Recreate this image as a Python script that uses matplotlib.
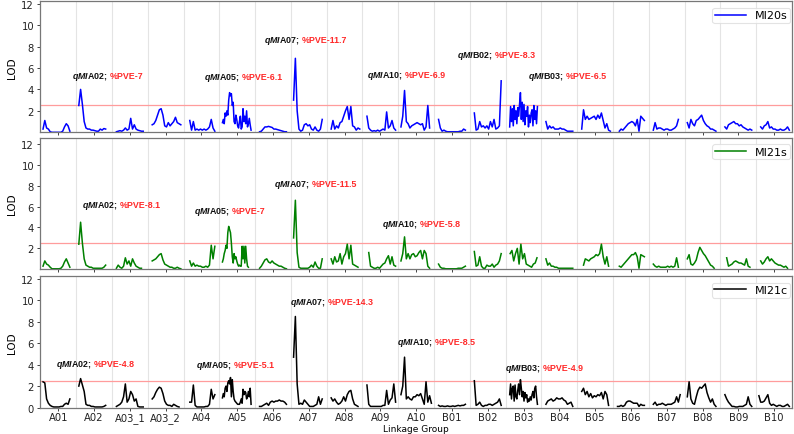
import numpy as np
import matplotlib
matplotlib.use("Agg")
import matplotlib.pyplot as plt
from matplotlib.transforms import offset_copy

nan = np.nan

groups = ['A01', 'A02', 'A03_1', 'A03_2', 'A04', 'A05', 'A06', 'A07', 'A08', 'A09', 'A10',
          'B01', 'B02', 'B03', 'B04', 'B05', 'B06', 'B07', 'B08', 'B09', 'B10']

# LOD scans, one list per linkage group (evenly spaced positions along each group)
mi20s_lod = [
    [nan, 0.3, 1.1, 0.4, 0.3, 0.05, 0, 0, 0, 0, 0, 0, 0.1, 0.5, 0.8, 0.6, 0.1, nan, nan, nan],
    [nan, 2.5, 4.0, 2.6, 1.0, 0.4, 0.3, 0.3, 0.2, 0.2, 0.15, 0.1, 0.1, 0.3, 0.2, 0.35, 0.3, nan, nan, nan],
    [nan, nan, 0.05, 0.1, 0.15, 0.1, 0.2, 0.4, 0.2, 0.3, 1.3, 0.3, 0.7, 0.3, 0.2, 0.15, 0.1, 0.1, nan, nan],
    [nan, nan, 0.7, 0.8, 1.1, 1.6, 2.1, 2.2, 1.6, 0.6, 0.5, 0.9, 0.6, 0.8, 1.0, 1.4, 0.9, 0.8, 0.7, nan],
    [nan, nan, nan, 1.1, 0.2, 1.0, 0.2, 0.3, 0.2, 0.3, 0.2, 0.3, 0.2, 0.3, 0.5, 1.2, 0.4, 0.1, nan, nan],
    [nan, nan, nan, 0.9, 1.2, 0.8, 1.8, 1.5, 2.0, 1.6, 3.0, 3.7, 3.4, 3.6, 2.5, 2.8, 1.0, 0.8, 1.6, 1.2,
     0.6, 0.4, 1.0, 1.5, 0.3, 0.5, 2.2, 1.0, 1.5, 0.8, 2.0, 0.5, 0.8, 1.3, 0.7, 0.2, nan, nan, nan, nan],
    [nan, nan, 0.05, 0.1, 0.3, 0.5, 0.5, 0.55, 0.5, 0.45, 0.3, 0.3, 0.25, 0.2, 0.15, 0.1, 0.05, 0.05, nan, nan],
    [nan, 3.0, 6.9, 2.0, 0.3, 0.1, 0.2, 0.7, 0.8, 0.6, 0.7, 0.3, 0.2, 0.5, 0.2, 0.1, 0.3, 1.2, nan, nan],
    [nan, nan, 0.3, 1.1, 0.3, 0.6, 0.4, 0.9, 1.0, 1.5, 2.0, 2.4, 1.2, 2.4, 0.6, 0.5, 0.2, 0.4, 0.3, nan],
    [nan, nan, 1.5, 0.4, 0.2, 0.1, 0.15, 0.1, 0.2, 0.1, 0.2, 0.3, 0.2, 1.9, 0.4, 0.6, 1.1, 0.4, 0.2, nan],
    [nan, 0.5, 1.5, 3.9, 1.0, 0.8, 0.4, 0.6, 0.7, 0.8, 0.9, 0.8, 0.7, 0.8, 0.2, 0.5, 2.5, 0.4, nan, nan],
    [nan, nan, 1.2, 0.4, 0.1, 0.2, 0.1, 0.05, 0.05, 0.05, 0.05, 0.05, 0.05, 0.05, 0.1, 0.1, 0.3, 0.2, nan, nan],
    [nan, nan, 1.8, 0.2, 0.3, 1.0, 0.5, 0.6, 0.4, 0.6, 0.3, 1.0, 0.5, 1.2, 0.3, 0.4, 0.6, 4.8, nan, nan],
    [nan, nan, nan, nan, 0.5, 2.4, 1.0, 2.2, 0.6, 2.5, 1.2, 2.0, 0.8, 2.3, 1.5, 2.6, 3.7, 1.2, 2.8, 1.0,
     2.6, 0.7, 2.0, 1.5, 2.4, 0.5, 1.6, 0.9, 1.8, 2.1, 0.6, 2.5, 1.2, 2.0, 0.8, 2.4, nan, nan, nan, nan],
    [nan, nan, 1.0, 0.3, 0.6, 0.4, 0.5, 0.3, 0.3, 0.3, 0.4, 0.3, 0.3, 0.2, 0.1, 0.1, 0.1, 0.1, nan, nan],
    [nan, nan, 0.3, 2.1, 1.2, 1.5, 1.2, 1.3, 1.4, 1.5, 1.2, 1.6, 1.3, 1.8, 1.1, 0.4, 0.8, 0.2, 0.1, nan],
    [nan, nan, nan, 0.1, 0.3, 0.2, 0.4, 0.6, 0.8, 0.9, 1.0, 0.9, 0.6, 1.2, 0.1, 1.5, 1.3, 1.1, nan, nan],
    [nan, nan, 0.2, 0.9, 0.3, 0.4, 0.4, 0.3, 0.2, 0.3, 0.3, 0.2, 0.2, 0.3, 0.4, 0.6, 1.2, nan, nan, nan],
    [nan, 0.9, 0.4, 1.2, 0.8, 0.6, 1.1, 1.2, 1.4, 1.6, 1.1, 0.8, 0.6, 0.5, 0.3, 0.3, 0.2, 0.1, nan, nan],
    [nan, nan, 0.5, 0.3, 0.7, 0.8, 0.9, 1.0, 0.8, 0.8, 0.6, 0.7, 0.5, 0.4, 0.3, 0.2, 0.3, 0.2, nan, nan],
    [nan, nan, 0.5, 0.3, 0.6, 0.7, 1.0, 0.4, 0.5, 0.3, 0.3, 0.2, 0.2, 0.3, 0.2, 0.2, 0.3, 0.5, 0.2, nan],
]

mi21s_lod = [
    [nan, 0.3, 0.8, 0.5, 0.4, 0.2, 0.05, 0.05, 0.05, 0.05, 0.05, 0.1, 0.3, 0.7, 1.0, 0.6, 0.2, nan, nan, nan],
    [nan, 2.4, 4.5, 2.5, 1.0, 0.4, 0.3, 0.2, 0.2, 0.1, 0.1, 0.1, 0.1, 0.1, 0.1, 0.2, 0.4, nan, nan, nan],
    [nan, nan, 0.1, 0.4, 0.2, 0.1, 0.3, 1.1, 0.5, 0.8, 0.3, 1.0, 0.6, 0.3, 0.2, 0.1, 0.1, nan, nan, nan],
    [nan, nan, 0.8, 0.9, 1.0, 1.2, 1.4, 1.5, 0.9, 0.5, 0.4, 0.3, 0.2, 0.2, 0.1, 0.1, 0.2, 0.1, 0.05, nan],
    [nan, nan, nan, 0.8, 0.3, 0.6, 0.3, 0.4, 0.3, 0.3, 0.2, 0.2, 0.3, 0.2, 0.4, 2.3, 1.0, 2.2, nan, nan],
    [nan, nan, nan, 0.7, 1.0, 1.5, 1.8, 2.3, 2.0, 3.5, 4.1, 3.8, 3.5, 2.5, 1.2, 0.6, 1.5, 1.0, 1.2, 0.8,
     0.5, 0.3, 0.4, 0.3, 0.3, 2.2, 1.0, 2.2, 0.6, 2.2, 1.0, 0.3, 0.2, nan, nan, nan, nan, nan, nan, nan],
    [nan, nan, 0.1, 0.3, 0.6, 0.9, 1.0, 0.7, 0.6, 0.8, 0.6, 0.5, 0.4, 0.3, 0.3, 0.2, 0.1, 0.05, nan, nan],
    [nan, 3.0, 6.6, 1.6, 0.2, 0.1, 0.1, 0.1, 0.1, 0.1, 0.2, 0.4, 0.2, 0.7, 0.3, 0.1, 0.1, 1.0, nan, nan],
    [nan, nan, 1.0, 0.5, 1.2, 0.7, 0.8, 1.5, 0.5, 1.2, 1.5, 2.4, 1.0, 2.3, 0.5, 0.4, 0.3, 0.2, nan, nan],
    [nan, nan, nan, 1.6, 0.3, 0.2, 0.1, 0.1, 0.2, 0.1, 0.3, 0.5, 0.6, 1.0, 1.3, 0.5, 1.2, 0.4, 0.3, nan],
    [nan, 0.8, 1.5, 3.1, 1.0, 1.5, 1.0, 1.4, 1.5, 1.2, 1.3, 1.6, 1.8, 1.0, 1.8, 1.5, 0.3, 0.1, nan, nan],
    [nan, nan, 0.5, 0.2, 0.1, 0.1, 0.05, 0.05, 0.05, 0.05, 0.05, 0.05, 0.05, 0.1, 0.1, 0.1, 0.2, 0.3, nan, nan],
    [nan, nan, 1.7, 0.3, 0.4, 1.2, 0.3, 0.1, 0.1, 0.4, 0.3, 0.3, 0.5, 0.2, 0.4, 0.5, 0.8, 1.5, nan, nan],
    [nan, nan, 1.5, 1.8, 0.8, 1.5, 2.0, 0.5, 2.4, 1.0, 1.5, 0.5, 0.4, 0.3, 0.2, 0.5, 0.6, 1.1, nan, nan],
    [nan, nan, 1.0, 0.4, 0.6, 0.3, 0.3, 0.2, 0.2, 0.1, 0.1, 0.1, 0.1, 0.1, 0.1, 0.1, 0.1, 0.1, nan, nan],
    [nan, nan, nan, 0.4, 1.0, 0.9, 0.8, 1.0, 1.1, 1.2, 1.4, 1.3, 1.5, 2.4, 1.2, 0.5, 1.2, 0.3, nan, nan],
    [nan, nan, nan, 0.3, 0.2, 0.4, 0.6, 0.8, 1.0, 1.2, 1.4, 1.4, 1.6, 1.2, 0.1, 1.4, 1.3, 1.2, nan, nan],
    [nan, nan, 0.5, 0.3, 0.2, 0.3, 0.2, 0.2, 0.2, 0.2, 0.3, 0.2, 0.3, 0.2, 0.3, 1.1, 0.2, nan, nan, nan],
    [nan, 1.0, 1.4, 0.5, 0.4, 0.6, 0.9, 1.6, 2.1, 1.8, 1.5, 1.3, 1.0, 0.7, 0.4, 0.3, 0.1, nan, nan, nan],
    [nan, nan, nan, 1.1, 0.3, 0.4, 0.5, 0.7, 0.8, 0.7, 0.6, 0.6, 0.5, 0.4, 1.0, 0.3, 0.2, nan, nan, nan],
    [nan, nan, 0.8, 0.5, 0.7, 1.0, 1.2, 0.8, 1.0, 0.8, 0.6, 0.5, 0.4, 0.4, 0.3, 0.2, 0.3, 0.1, nan, nan],
]

mi21c_lod = [
    [nan, 2.4, 2.3, 0.8, 0.4, 0.2, 0.1, 0.05, 0.05, 0.05, 0.05, 0.1, 0.1, 0.3, 0.4, 0.3, 0.8, nan, nan, nan],
    [nan, 2.0, 2.7, 2.1, 1.5, 0.3, 0.2, 0.2, 0.1, 0.1, 0.05, 0.05, 0.05, 0.05, 0.05, 0.1, 0.2, nan, nan, nan],
    [nan, nan, 0.1, 0.2, 0.3, 0.5, 1.0, 2.2, 0.5, 0.8, 1.5, 1.2, 0.6, 0.8, 0.1, 0.05, 0.05, 0.05, nan, nan],
    [nan, nan, 0.8, 1.0, 1.4, 1.7, 1.9, 1.8, 1.3, 0.6, 0.3, 0.2, 0.2, 0.1, 0.3, 0.2, 0.1, 0.05, nan, nan],
    [nan, nan, nan, 0.5, 0.5, 2.1, 0.2, 0.05, 0.05, 0.05, 0.05, 0.05, 0.1, 0.1, 0.3, 1.7, 0.8, 1.2, nan, nan],
    [nan, nan, nan, 0.9, 1.3, 1.0, 1.8, 2.0, 1.5, 2.3, 2.5, 2.2, 2.8, 1.0, 2.6, 1.5, 0.8, 0.6, 0.5, 0.4,
     0.3, 0.3, 0.3, 0.5, 0.8, 0.4, 1.7, 1.2, 1.5, 1.4, 0.8, 1.0, 1.5, 1.0, 1.8, 0.3, nan, nan, nan, nan],
    [nan, nan, 0.1, 0.1, 0.2, 0.3, 0.4, 0.2, 0.5, 0.6, 0.5, 0.6, 0.6, 0.7, 0.6, 0.6, 0.5, 0.3, nan, nan],
    [nan, 4.7, 8.5, 2.2, 0.3, 0.4, 0.3, 0.7, 0.5, 0.3, 0.1, 0.1, 0.1, 0.2, 0.3, 1.0, 0.3, 0.8, nan, nan],
    [nan, nan, 0.9, 0.6, 0.8, 0.5, 0.3, 0.4, 0.6, 1.0, 0.6, 1.2, 1.5, 1.6, 0.8, 0.3, 0.2, 0.1, nan, nan],
    [nan, nan, 2.1, 0.3, 0.1, 0.1, 0.1, 0.1, 0.1, 0.1, 0.1, 0.2, 0.2, 1.6, 0.3, 0.7, 0.9, 2.2, 0.5, nan],
    [nan, 1.2, 2.0, 4.7, 0.8, 1.0, 0.8, 0.7, 1.0, 1.0, 1.2, 1.1, 1.3, 0.8, 0.3, 2.4, 0.5, 1.1, 0.4, nan],
    [nan, nan, 0.2, 0.1, 0.15, 0.1, 0.1, 0.15, 0.1, 0.1, 0.15, 0.1, 0.15, 0.2, 0.15, 0.2, 0.2, 0.3, nan, nan],
    [nan, nan, 2.5, 0.2, 0.3, 0.5, 0.2, 0.1, 0.2, 0.2, 0.3, 0.3, 0.2, 0.3, 0.4, 0.5, 0.8, 0.2, nan, nan],
    [nan, nan, nan, nan, 1.2, 2.2, 0.8, 1.8, 2.0, 0.6, 2.1, 1.0, 0.8, 1.6, 2.2, 1.2, 2.6, 1.8, 1.0, 1.5,
     0.6, 1.4, 0.9, 1.2, 0.5, 0.8, 0.6, 1.0, 0.7, 1.2, 1.5, 0.9, 1.8, 2.0, 1.0, 0.3, nan, nan, nan, nan],
    [nan, nan, 0.3, 0.6, 0.7, 0.8, 0.6, 0.7, 0.9, 0.8, 0.8, 0.9, 0.7, 0.6, 0.3, 0.4, 0.5, 0.1, nan, nan],
    [nan, nan, 1.5, 1.8, 1.2, 1.5, 1.0, 1.3, 0.9, 1.1, 1.0, 1.2, 1.1, 1.4, 0.8, 1.5, 1.2, 0.2, nan, nan],
    [nan, nan, 0.1, 0.1, 0.2, 0.1, 0.2, 0.5, 0.6, 0.6, 0.5, 0.4, 0.4, 0.4, 0.1, 0.3, 0.2, 0.2, nan, nan],
    [nan, nan, 0.3, 0.5, 0.2, 0.3, 0.3, 0.4, 0.3, 0.2, 0.3, 0.3, 0.3, 0.4, 0.5, 1.0, 0.5, 1.2, nan, nan],
    [nan, 1.0, 2.4, 0.8, 0.4, 0.3, 1.0, 1.6, 1.9, 1.8, 2.0, 2.2, 1.4, 0.9, 0.5, 0.8, 0.3, 0.1, nan, nan],
    [nan, nan, 1.2, 0.8, 0.5, 0.3, 0.1, 0.1, 0.05, 0.05, 0.1, 0.1, 0.1, 0.2, 0.3, 1.0, 0.3, 0.1, nan, nan],
    [nan, 1.1, 0.5, 0.5, 0.6, 0.9, 1.2, 0.4, 0.2, 0.3, 0.2, 0.1, 0.2, 0.2, 0.1, 0.1, 0.2, 0.3, 0.1, nan],
]

series_names = ['MI20s', 'MI21s', 'MI21c']
series_colors = ['#0000ff', '#008000', '#000000']
lod_threshold = 2.5

# QTL labels per panel: (linkage group, %PVE)
mi20s_qtl = ['A02', 'A05', 'A07', 'A10', 'B02', 'B03']
mi20s_pve = ['7', '6.1', '11.7', '6.9', '8.3', '6.5']
mi21s_qtl = ['A02', 'A05', 'A07', 'A10']
mi21s_pve = ['8.1', '7', '11.5', '5.8']
mi21c_qtl = ['A02', 'A05', 'A07', 'A10', 'B03']
mi21c_pve = ['4.8', '5.1', '14.3', '8.5', '4.9']

# label placement (layout only)
label_pos = [
    [(0.89, 5.05), (4.57, 4.95), (6.25, 8.4), (9.12, 5.2), (11.64, 7.0), (13.62, 5.05)],
    [(1.17, 5.95), (4.29, 5.4), (6.53, 8.0), (9.54, 4.15)],
    [(0.44, 3.85), (4.35, 3.75), (6.97, 9.65), (9.96, 5.9), (12.98, 3.5)],
]

use_math = True
try:
    plt.rcParams['mathtext.fontset'] = 'custom'
    plt.rcParams['mathtext.bfit'] = 'Liberation Sans:italic:bold'
    plt.rcParams['mathtext.rm'] = 'Liberation Sans:bold'
    plt.rcParams['mathtext.it'] = 'Liberation Sans:italic:bold'
except Exception:
    use_math = False

fig = plt.figure(figsize=(7.94, 4.35), dpi=100)
left, width = 0.0508, 0.9467
panel_rect = [(0.6936, 0.3007), (0.3786, 0.3019), (0.0609, 0.3016)]
ylims = [12.2, 12.55, 12.25]

all_lod = [mi20s_lod, mi21s_lod, mi21c_lod]
all_qtl = [mi20s_qtl, mi21s_qtl, mi21c_qtl]
all_pve = [mi20s_pve, mi21s_pve, mi21c_pve]

renderer = fig.canvas.get_renderer()
lab_font = ['Liberation Sans', 'DejaVu Sans']
LFS = 6.4


def qtl_label(ax, x, y, chrom, pve):
    global use_math
    t_black = None
    if use_math:
        try:
            t_black = ax.text(x, y, r'$\mathbfit{qMI}$' + chrom + ';', fontsize=LFS,
                              fontweight='bold', family=lab_font, va='baseline',
                              ha='left', color='#111111')
            wb = t_black.get_window_extent(renderer).width
        except Exception:
            if t_black is not None:
                t_black.remove()
            t_black = None
            use_math = False
    if t_black is None:
        t1 = ax.text(x, y, 'qMI', fontsize=LFS, fontweight='bold', fontstyle='italic',
                     family=lab_font, va='baseline', ha='left', color='#111111')
        w1 = t1.get_window_extent(renderer).width
        tr2 = offset_copy(ax.transData, fig=fig, x=w1 - 0.7, y=0, units='dots')
        t2 = ax.text(x, y, chrom + ';', fontsize=LFS, fontweight='bold', family=lab_font,
                     va='baseline', ha='left', transform=tr2, color='#111111')
        wb = w1 - 0.7 + t2.get_window_extent(renderer).width
    tr3 = offset_copy(ax.transData, fig=fig, x=wb + 2.0, y=0, units='dots')
    ax.text(x, y, '%PVE-' + pve, fontsize=LFS, fontweight='bold', family=lab_font,
            va='baseline', ha='left', transform=tr3, color='#ff2a2a')


axes = []
for p in range(3):
    b, h = panel_rect[p]
    ax = fig.add_axes([left, b, width, h])
    axes.append(ax)
    lod = all_lod[p]
    for gi, vals in enumerate(lod):
        vals = np.asarray(vals, dtype=float)
        n = len(vals)
        xs = gi + (np.arange(n) + 0.5) / n
        ax.plot(xs, vals, color=series_colors[p], lw=1.1,
                label=series_names[p] if gi == 0 else None)
    ax.axhline(lod_threshold, color='#ff9c9c', lw=0.9, zorder=1)
    for k in range(1, len(groups)):
        ax.axvline(k, color='#e4e4e4', lw=0.8, zorder=0)
    ax.set_xlim(0, len(groups))
    ax.set_ylim(0, ylims[p])
    if p < 2:
        ax.set_yticks([2, 4, 6, 8, 10, 12])
    else:
        ax.set_yticks([0, 2, 4, 6, 8, 10, 12])
    ax.set_xticks(np.arange(len(groups)) + 0.5)
    if p == 2:
        ax.set_xticklabels(groups, fontsize=7.2)
        ax.set_xlabel('Linkage Group', fontsize=6.5, labelpad=0.5)
    else:
        ax.set_xticklabels([])
    ax.tick_params(axis='y', labelsize=7.2, length=2.5, width=0.6, pad=2, colors='#222222')
    ax.tick_params(axis='x', length=2, width=0.6, pad=1.5, colors='#222222')
    ax.set_ylabel('LOD', fontsize=7.5, labelpad=3)
    for s in ax.spines.values():
        s.set_color('#777777')
        s.set_linewidth(0.9)
    top_frac = 1 - 6.5 / (h * 435)
    leg = ax.legend(loc='upper right', bbox_to_anchor=(0.9973, top_frac), borderaxespad=0,
                    fontsize=8, frameon=True, fancybox=True,
                    handlelength=2.8, borderpad=0.22, handletextpad=0.8)
    leg.get_frame().set_edgecolor('#dddddd')
    leg.get_frame().set_linewidth(0.8)
    for (x, y), chrom, pve in zip(label_pos[p], all_qtl[p], all_pve[p]):
        qtl_label(ax, x, y, chrom, pve)

fig.savefig('out.png', dpi=100)
